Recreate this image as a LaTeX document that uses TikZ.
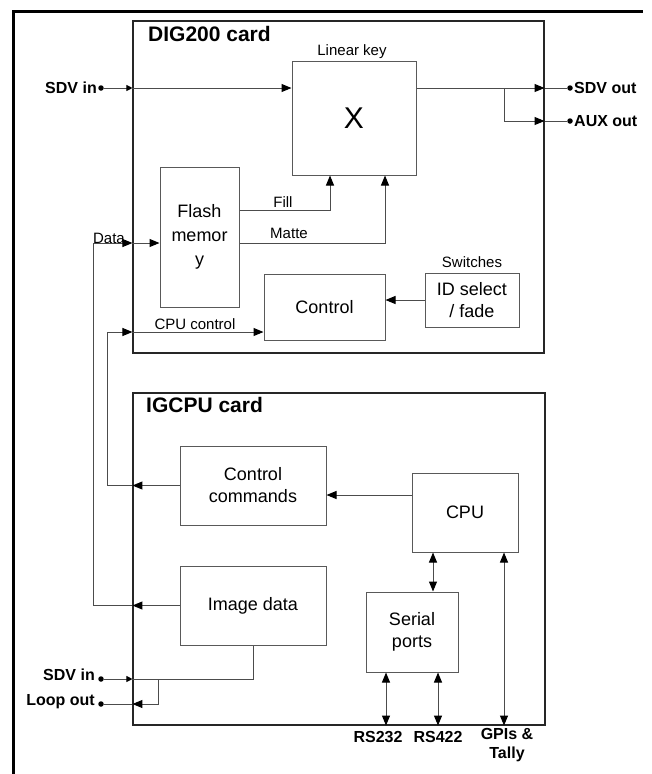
\documentclass[tikz,border=0pt]{standalone}
\usepackage{fontspec}
\setmainfont{Liberation Sans}
\usetikzlibrary{arrows.meta,calc}
\newcommand{\fsz}[1]{\fontsize{#1}{#1}\selectfont}
\newcommand{\fszb}[2]{\fontsize{#1}{#2}\selectfont}
\begin{document}
\begin{tikzpicture}[x=1pt,y=-1pt,
  card/.style={draw=black!85,line width=1.1pt,inner sep=0pt},
  blk/.style={draw=black!65,line width=1pt,inner sep=0pt,align=center,font=\fsz{18}},
  lbl/.style={inner sep=0pt,font=\fsz{15}},
  blbl/.style={inner sep=0pt,font=\bfseries\fsz{16}},
  ttl/.style={inner sep=0pt,font=\bfseries\fsz{21},anchor=west},
  ln/.style={draw=black!70,line width=1pt},
  arr/.style={ln,-{Triangle[length=10pt,width=8pt,color=black]}},
  sarr/.style={ln,-{Triangle[length=6pt,width=6pt,color=black]}},
  dbl/.style={ln,{Triangle[length=10pt,width=8pt,color=black]}-{Triangle[length=10pt,width=8pt,color=black]}},
  dotc/.style={circle,fill=black,inner sep=0pt,minimum size=5.5pt}]
\useasboundingbox (0,0) rectangle (652,774);
% outer frame
\draw[line width=3pt] (13,774) -- (13,11) -- (643,11);
% cards
\node[card,minimum width=411,minimum height=332] (dig) at (338.5,187) {};
\node[card,minimum width=412,minimum height=332] (igcpu) at (339,559) {};
\node[ttl] (digt) at (148,34) {DIG200 card};
\node[ttl] (igt) at (146,405) {IGCPU card};
% blocks
\node[blk,minimum width=124,minimum height=114,font=\fsz{30}] (X) at (354,118) {X};
\node[lbl] (lk) at (352,52) {Linear key};
\node[blk,minimum width=79,minimum height=140,font=\fszb{18}{24}] (flash) at (199.5,237) {Flash\\memor\\y};
\node[blk,minimum width=121,minimum height=66] (control) at (324.5,307) {Control};
\node[blk,minimum width=94,minimum height=54,font=\fszb{18}{22}] (idsel) at (472,300) {ID select\\/ fade};
\node[lbl] (sw) at (472,262) {Switches};
\node[blk,minimum width=146,minimum height=79,font=\fszb{18}{22}] (ctrlcmd) at (253,485.5) {Control\\commands};
\node[blk,minimum width=106,minimum height=79] (cpu) at (465,512.5) {CPU};
\node[blk,minimum width=146,minimum height=79] (imgdata) at (253,605.5) {Image data};
\node[blk,minimum width=92,minimum height=80,font=\fszb{18}{22}] (serial) at (412,632) {Serial\\ports};
% external points
\node[dotc] (sdvin) at (101,88) {};
\node[blbl,anchor=east] (sdvinl) at (97,88) {SDV in};
\node[dotc] (sdvout) at (570,88) {};
\node[blbl,anchor=west] (sdvoutl) at (574,88) {SDV out};
\node[dotc] (auxout) at (570,121) {};
\node[blbl,anchor=west] (auxoutl) at (574,121) {AUX out};
\node[dotc] (sdvin2) at (101,679) {};
\node[blbl,anchor=east] (sdvin2l) at (95,675) {SDV in};
\node[dotc] (loopout) at (101,704) {};
\node[blbl,anchor=east] (loopoutl) at (95,702) {Loop out};
% helper coordinates
\coordinate (br) at (504,88);
\coordinate (fillc) at (330,210);
\coordinate (mattec) at (385,243);
\coordinate (datac) at (93,243);
\coordinate (cpuc) at (107,332);
\coordinate (cc) at (0,495);
\coordinate (sx) at (433,0);
\coordinate (gx) at (504,0);
\coordinate (r2x) at (386,0);
\coordinate (r4x) at (438,0);
\coordinate (sdvj) at (253,679);
\coordinate (lpj) at (158,679);
% SDV path
\draw[sarr] (sdvin) -- (dig.west |- sdvin);
\draw[arr] (dig.west |- sdvin) -- (X.west |- sdvin);
\draw[arr] (X.east |- sdvin) -- (dig.east |- sdvout);
\draw[ln] (dig.east |- sdvout) -- (sdvout);
\draw[arr] (br) |- (dig.east |- auxout);
\draw[ln] (dig.east |- auxout) -- (auxout);
% Fill / Matte
\draw[arr] (flash.east |- fillc) -| (fillc |- X.south);
\node[lbl] (filll) at (283,202) {Fill};
\draw[arr] (flash.east |- mattec) -| (mattec |- X.south);
\node[lbl] (mattel) at (289,233) {Matte};
% Data
\draw[arr] (datac) -- (dig.west |- datac);
\draw[arr] (dig.west |- datac) -- (flash.west |- datac);
\node[lbl] (datal) at (109,238) {Data};
\draw[arr] (imgdata.west) -- (igcpu.west |- imgdata.west);
\draw[ln] (igcpu.west |- imgdata.west) -| (datac);
% CPU control
\draw[arr] (cpuc) -- (dig.west |- cpuc);
\draw[arr] (dig.west |- cpuc) -- (control.west |- cpuc);
\node[lbl] (cpucl) at (195,324) {CPU control};
\draw[arr] (ctrlcmd.west) -- (igcpu.west |- ctrlcmd.west);
\draw[ln] (igcpu.west |- ctrlcmd.west) -| (cpuc);
% switches
\draw[arr] (idsel.west) -- (control.east |- idsel.west);
% CPU
\draw[arr] (cpu.west |- cc) -- (ctrlcmd.east |- cc);
\draw[dbl] (cpu.south -| sx) -- (serial.north -| sx);
\draw[dbl] (cpu.south -| gx) -- (igcpu.south -| gx);
\draw[dbl] (serial.south -| r2x) -- (igcpu.south -| r2x);
\draw[dbl] (serial.south -| r4x) -- (igcpu.south -| r4x);
\node[blbl] (rs232) at (378,737) {RS232};
\node[blbl] (rs422) at (438,737) {RS422};
\node[blbl,align=center,font=\bfseries\fszb{16}{19}] (gpi) at (507,745) {GPIs \&\\Tally};
% bottom SDV in / loop out
\draw[sarr] (sdvin2) -- (igcpu.west |- sdvin2);
\draw[ln] (igcpu.west |- sdvin2) -- (sdvj) -- (imgdata.south);
\draw[arr] (lpj) |- (igcpu.west |- loopout);
\draw[ln] (igcpu.west |- loopout) -- (loopout);
\end{tikzpicture}
\end{document}
